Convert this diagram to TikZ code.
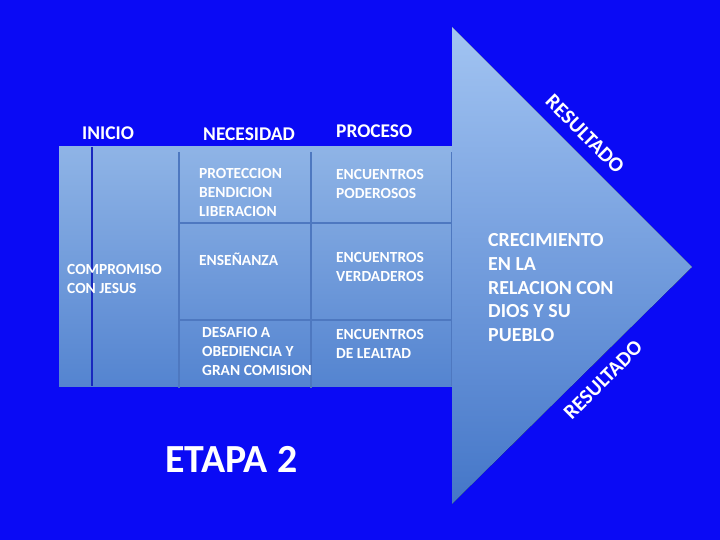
\documentclass[tikz,border=0pt]{standalone}
\usepackage{fontspec}
\setmainfont{Carlito}
\definecolor{fondo}{RGB}{10,10,245}
\definecolor{bandaarriba}{RGB}{143,180,230}
\definecolor{bandaabajo}{RGB}{84,132,208}
\definecolor{flechaarriba}{RGB}{162,196,242}
\definecolor{flechaabajo}{RGB}{68,118,200}
\definecolor{linea}{RGB}{78,120,192}
\definecolor{lineaosc}{RGB}{25,40,190}

\begin{document}
\begin{tikzpicture}[x=1bp,y=-1bp,
    celda/.style={text=white,font=\bfseries\fontsize{15.5}{19}\selectfont,align=left,anchor=north west,inner sep=0pt},
    titulo/.style={celda,font=\bfseries\fontsize{19.5}{24}\selectfont},
    resultado/.style={text=white,font=\bfseries\fontsize{21}{25}\selectfont,inner sep=0pt},
    rejilla/.style={draw=linea,line width=2bp}]
  \useasboundingbox[fill=fondo] (0,0) rectangle (720,540);
  % banda y lineas
  \fill[top color=bandaarriba,bottom color=bandaabajo] (59,147) rectangle (454,386);
  \draw[rejilla] (179,152) -- (179,388) (311,152) -- (311,388) (452,152) -- (452,386);
  \draw[rejilla] (180,223) -- (452,223) (180,320) -- (452,320);
  \draw[lineaosc, line width=1.5bp] (92,147) -- (92,386);
  % punta de flecha
  \fill[top color=flechaarriba,bottom color=flechaabajo] (452,27) -- (692,267) -- (452,504) -- cycle;

  % encabezados
  \node (inicio) [titulo] at (82,127) {INICIO};
  \node (necesidad) [titulo] at (203,128) {NECESIDAD};
  \node (proceso) [titulo] at (336,125) {PROCESO};

  \node (compromiso) [celda] at (67,264) {COMPROMISO\\CON JESUS};
  \node (proteccion) [celda] at (199,168) {PROTECCION\\BENDICION\\LIBERACION};
  \node (poderosos) [celda] at (336,169) {ENCUENTROS\\PODEROSOS};
  \node (ensenanza) [celda] at (199,253) {ENSEÑANZA};
  \node (verdaderos) [celda] at (336,252) {ENCUENTROS\\VERDADEROS};
  \node (desafio) [celda] at (202,327) {DESAFIO A\\OBEDIENCIA Y\\GRAN COMISION};
  \node (lealtad) [celda] at (336,329) {ENCUENTROS\\DE LEALTAD};

  \node (crecimiento) [titulo, font=\bfseries\fontsize{20}{24}\selectfont] at (488,233) {CRECIMIENTO\\EN LA\\RELACION CON\\DIOS Y SU\\PUEBLO};
  \node (resarriba) [resultado, rotate=-45] at (585,134) {RESULTADO};
  \node (resabajo) [resultado, rotate=45] at (603,380) {RESULTADO};

  \node (etapa) [celda, font=\bfseries\fontsize{40}{46}\selectfont] at (165,446) {ETAPA 2};
\end{tikzpicture}
\end{document}
